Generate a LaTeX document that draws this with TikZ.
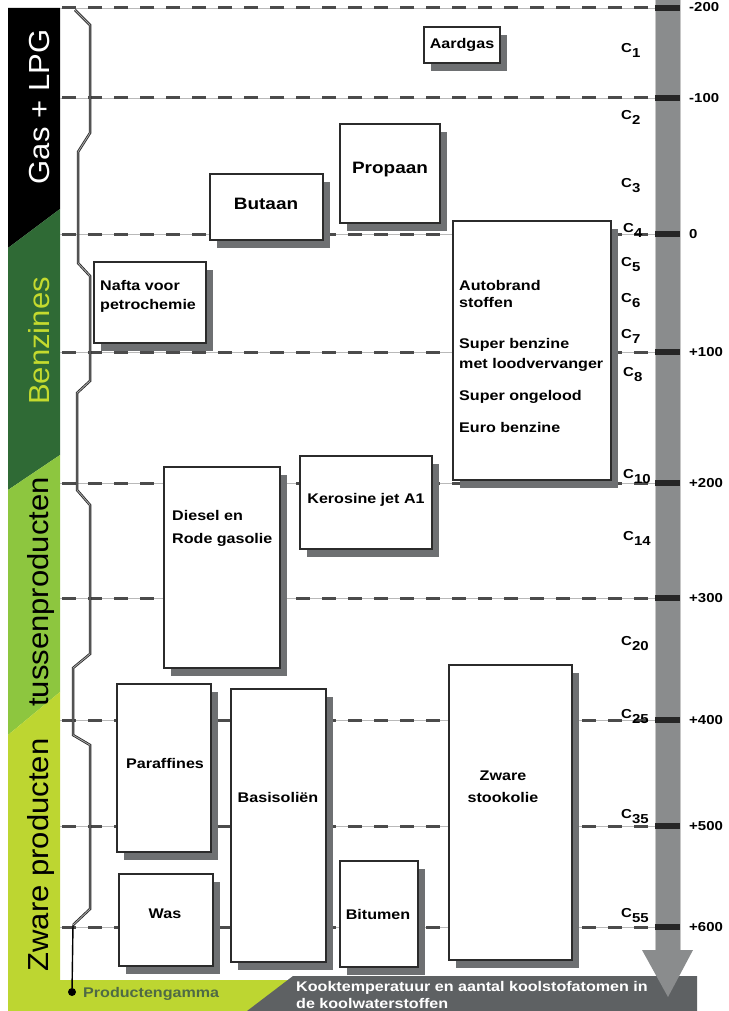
\documentclass[tikz,border=0pt]{standalone}
\usepackage{fontspec}
\setmainfont{Liberation Sans}
\newfontfamily\boxfont[FakeStretch=1.15]{Liberation Sans}
\newfontfamily\bandfont[FakeStretch=1.07]{Liberation Sans}
\usepackage{tikz}
\usetikzlibrary{positioning}
\definecolor{benzgreen}{HTML}{2F6A35}
\definecolor{benzlime}{HTML}{C4DA2E}
\definecolor{tussgreen}{HTML}{8DC63F}
\definecolor{zwaregreen}{HTML}{BDD631}
\definecolor{scalegray}{HTML}{8A8C8D}
\definecolor{footgray}{HTML}{5E6163}
\definecolor{shadowgray}{HTML}{6E7072}
\definecolor{boxline}{HTML}{2B2B2B}
\definecolor{gammagreen}{HTML}{4F6A45}
\newcommand{\Cn}[1]{C\raisebox{-5pt}{#1}}

\begin{document}
\begin{tikzpicture}[
  x=1pt, y=-1pt,
  prodbox/.style={draw=boxline,line width=1.4pt,fill=white},
  prodshadow/.style={fill=shadowgray},
  prodlabel/.style={font=\boxfont\bfseries\fontsize{14}{17}\selectfont,inner sep=0pt},
  biglabel/.style={prodlabel,font=\boxfont\bfseries\fontsize{16.5}{18}\selectfont},
  bandlabel/.style={font=\bandfont\fontsize{29}{29}\selectfont,rotate=90,anchor=base,inner sep=0pt},
  templabel/.style={font=\boxfont\bfseries\fontsize{13}{13}\selectfont,anchor=west,inner sep=0pt},
  clabel/.style={font=\boxfont\bfseries\fontsize{13}{13}\selectfont,anchor=base west,inner sep=0pt},
  levelline/.style={draw=boxline!85,line width=3pt,dash pattern=on 14pt off 12pt},
  levelthin/.style={draw=gray!55,line width=0.6pt},
  gammaline/.style={draw=black!85,line width=0.8pt,double=gray!70,double distance=0.9pt}
]
\useasboundingbox (0,0) rectangle (728,1011);
%% ─── Left bands ──────────────────────────────────────────────────────────────
\fill[black]      (8,8) -- (60,8) -- (60,209) -- (8,248) -- cycle;
\fill[benzgreen]  (8,248) -- (60,209) -- (60,455) -- (8,490) -- cycle;
\fill[tussgreen]  (8,490) -- (60,455) -- (60,692) -- (8,735) -- cycle;
\fill[zwaregreen] (8,735) -- (60,692) -- (60,980) -- (300,980) -- (300,1011) -- (8,1011) -- cycle;
\fill[footgray]   (293,976) -- (697,976) -- (697,1011) -- (247,1011) -- cycle;
%% ─── Temperature scale ───────────────────────────────────────────────────────
\fill[scalegray] (655,0) rectangle (680,950);
\draw[gray!45,thin] (655,0) -- (655,950) (680,0) -- (680,950);
\fill[scalegray] (642,950) -- (693,950) -- (668,997) -- cycle;
\foreach \lv/\tc [count=\i] in {98/-100,234/0,352/+100,483/+200,598/+300,720/+400,826/+500,927/+600}{
  \draw[levelthin] (60,\lv) -- (655,\lv);
  \draw[levelline] (62,\lv) -- (655,\lv);
  \fill[black!85] (655,\lv-3) rectangle (680,\lv+3);
  \node[templabel] (temp\i) at (689,\lv) {\tc};
}
\draw[levelthin] (60,8) -- (655,8);
\draw[levelline] (62,8) -- (655,8);
\fill[black!85] (655,5) rectangle (680,11);
\node[templabel] (temp0) at (689,7) {-200};
%% ─── Product range line ──────────────────────────────────────────────────────
\node[circle,fill=black,inner sep=0pt,minimum size=8pt] (gammadot) at (72,992) {};
\node[prodlabel,text=gammagreen,anchor=west] (gamma) at (83,994) {Productengamma};
\draw[gammaline] (75,10) -- (90,25) -- (90,133) -- (78,152) -- (78,263) -- (90,276)
  -- (90,381) -- (77,393) -- (77,490) -- (90,505) -- (90,654) -- (73,668)
  -- (73,735) -- (90,745) -- (90,909) -- (73,925) coordinate (gammabend);
\draw[black,line width=1.4pt] (gammabend) -- (gammadot);
%% ─── Product boxes ───────────────────────────────────────────────────────────
\foreach \xa/\ya/\xb/\yb in {424/27/500/63, 340/124/440/223, 210/174/323/240,
    94/262/206/343, 453/221/611/480, 164/467/280/668, 300/456/432/549,
    117/684/211/852, 231/689/326/962, 119/874/213/966, 340/861/418/967,
    449/665/572/960}{
  \fill[prodshadow] (\xa+7,\ya+8) rectangle (\xb+7,\yb+8);
  \draw[prodbox] (\xa,\ya) rectangle (\xb,\yb);
}
\node[prodlabel] (aardgas) at (462,45) {Aardgas};
\node[biglabel] (propaan) at (390,170) {Propaan};
\node[biglabel] (butaan) at (266,204) {Butaan};
\node[prodlabel,anchor=north west,align=left] (nafta) at (100,280)
  {Nafta voor\\[2pt]petrochemie};
\node[prodlabel,anchor=north west,align=left] (auto) at (459,280)
  {Autobrand\\stoffen\\[24pt]Super benzine\\[3pt]met loodvervanger\\[15pt]%
   Super ongelood\\[15pt]Euro benzine};
\node[prodlabel,anchor=north west,align=left] (diesel) at (172,510)
  {Diesel en\\[6pt]Rode gasolie};
\node[prodlabel] (kerosine) at (366,500) {Kerosine jet A1};
\node[prodlabel] (paraffines) at (165,763) {Paraffines};
\node[prodlabel] (basis) at (278,797) {Basisoliën};
\node[prodlabel] (was) at (165,914) {Was};
\node[prodlabel] (bitumen) at (378,914) {Bitumen};
\node[prodlabel,align=center] (stookolie) at (503,787) {Zware\\[5pt]stookolie};
%% ─── Carbon numbers ──────────────────────────────────────────────────────────
\foreach \cx/\cy/\cn in {621/53/1, 621/120/2, 621/188/3, 623/232/4, 621/266/5,
    621/302/6, 621/338/7, 623/376/8, 623/478/10, 623/540/14, 621/645/20,
    621/718/25, 621/818/35, 621/917/55}{
  \node[clabel] (c\cn) at (\cx,\cy) {\Cn{\cn}};
}
%% ─── Band titles and footer ──────────────────────────────────────────────────
\node[bandlabel,text=white] (gaslpg) at (49,107) {Gas + LPG};
\node[bandlabel,text=benzlime] (benzines) at (49,341) {Benzines};
\node[bandlabel] (tussen) at (48,592) {tussenproducten};
\node[bandlabel] (zware) at (48,855) {Zware producten};
\node[prodlabel,text=white,anchor=north west,align=left] (kook) at (296,981)
  {Kooktemperatuur en aantal koolstofatomen in\\de koolwaterstoffen};
\end{tikzpicture}
\end{document}
